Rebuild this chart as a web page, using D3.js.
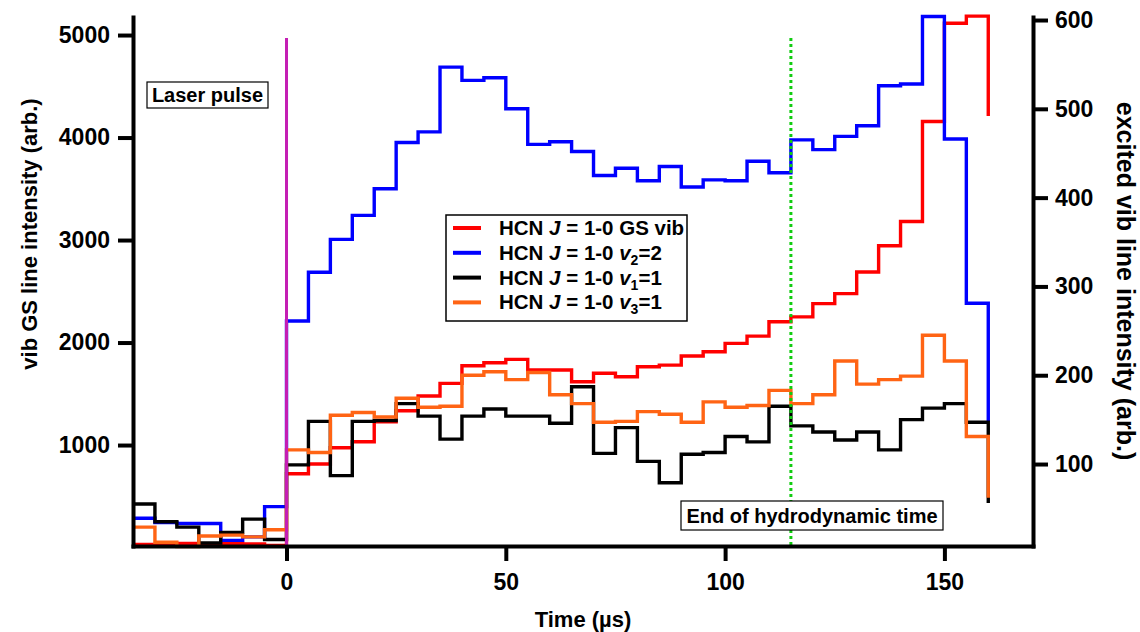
<!DOCTYPE html>
<html><head><meta charset="utf-8">
<script src="https://cdn.jsdelivr.net/npm/d3@7/dist/d3.min.js"></script>
<style>
body{margin:0;background:#fff}
svg text{font-family:"Liberation Sans",Arial,sans-serif;font-weight:bold;fill:#000}
</style>
</head><body>
<svg id="chart" width="1140" height="632"></svg>
<script>
// ---- data ----
const times = [-35,-30,-25,-20,-15,-10,-5,0,5,10,15,20,25,30,35,40,45,50,55,60,65,70,75,80,85,90,95,100,105,110,115,120,125,130,135,140,145,150,155,160];
const gsVib = [31,24,41,24,41,34,21,720,815,974,1032,1227,1335,1478,1602,1774,1803,1836,1732,1732,1618,1700,1666,1764,1780,1868,1910,1992,2063,2203,2250,2380,2477,2688,2944,3181,4157,5115,5185,4210];
const v2eq2 = [39,34,33,33,14,18,52,261,316,353,380,410,462,474,547,532,535,500,460,463,452,425,433,419,435,412,420,419,441,428,465,454,469,481,526,528,604,466,281,148];
const v1eq1 = [55,35,29,11,23,38,15,99,148,87,148,149,168,154,128,154,162,154,154,146,187,112,141,103,79,111,113,131,125,165,143,136,127,136,116,150,163,168,147,56];
const v3eq1 = [29,12,7,19,20,18,26,116,113,155,158,153,174,164,165,200,204,195,203,178,168,147,148,159,156,147,170,164,166,183,168,178,216,190,195,199,245,216,131,62];
const xTicks = [0,50,100,150];
const leftTicks = [1000,2000,3000,4000,5000];
const rightTicks = [100,200,300,400,500,600];
const laserTime = 0;
const hydroEndTime = 115;

// ---- layout ----
const svg = d3.select("#chart");
const L = 133, R = 1033, T = 17, B = 546;
const x = d3.scaleLinear().domain([-35, 170.2]).range([L, R]);
const yL = d3.scaleLinear().domain([15, 5176]).range([B, T]);
const yR = d3.scaleLinear().domain([7.7, 603.4]).range([B, T]);

const series = [
  {key:"gs", vals:gsVib, scale:yL, color:"#ff0000"},
  {key:"v2", vals:v2eq2, scale:yR, color:"#0000ff"},
  {key:"v1", vals:v1eq1, scale:yR, color:"#000000"},
  {key:"v3", vals:v3eq1, scale:yR, color:"#ff6414"}
];

// lines
series.forEach(s => {
  const pts = times.map((t,i)=>({t, v:s.vals[i]}));
  const line = d3.line().x(d=>x(d.t)).y(d=>s.scale(d.v)).curve(d3.curveStepAfter);
  svg.append("path").datum(pts).attr("d", line)
    .attr("fill","none").attr("stroke", s.color).attr("stroke-width",3.4)
    .attr("stroke-linejoin","miter");
});

// laser pulse line
svg.append("line").attr("x1",x(laserTime)).attr("x2",x(laserTime))
  .attr("y1",yL(4970)).attr("y2",B).attr("stroke","#c41eb4").attr("stroke-width",3);
// end of hydrodynamic time line
svg.append("line").attr("x1",x(hydroEndTime)).attr("x2",x(hydroEndTime))
  .attr("y1",yL(4970)).attr("y2",B).attr("stroke","#11cc11").attr("stroke-width",3)
  .attr("stroke-dasharray","3,3");

// axes
function styleAxis(g){
  g.selectAll("path.domain").attr("stroke","#000").attr("stroke-width",4).attr("stroke-linecap","square");
  g.selectAll(".tick line").attr("stroke","#000").attr("stroke-width",4);
  g.selectAll(".tick text").style("font-size","23px").attr("fill","#000");
}
svg.append("g").attr("transform",`translate(0,${B})`)
  .call(d3.axisBottom(x).tickValues(xTicks).tickSize(15).tickSizeOuter(0).tickPadding(13).tickFormat(d3.format("d")))
  .call(styleAxis);
svg.append("g").attr("transform",`translate(${L},0)`)
  .call(d3.axisLeft(yL).tickValues(leftTicks).tickSize(15).tickSizeOuter(0).tickPadding(8).tickFormat(d3.format("d")))
  .call(styleAxis);
svg.append("g").attr("transform",`translate(${R},0)`)
  .call(d3.axisRight(yR).tickValues(rightTicks).tickSize(15).tickSizeOuter(0).tickPadding(7).tickFormat(d3.format("d")))
  .call(styleAxis);

// axis titles
svg.append("text").attr("transform","translate(37,234) rotate(-90)").attr("text-anchor","middle")
  .style("font-size","22px").text("vib GS line intensity (arb.)");
svg.append("text").attr("transform","translate(1117,281) rotate(90)").attr("text-anchor","middle")
  .style("font-size","25px").text("excited vib line intensity (arb.)");
svg.append("text").attr("x",(L+R)/2).attr("y",627).attr("text-anchor","middle")
  .style("font-size","22px").text("Time (µs)");

// annotation boxes
function noteBox(x0,y0,w,h,label,fs){
  svg.append("rect").attr("x",x0).attr("y",y0).attr("width",w).attr("height",h)
    .attr("fill","#fff").attr("stroke","#000").attr("stroke-width",1.2);
  svg.append("text").attr("x",x0+w/2).attr("y",y0+h/2).attr("dy","0.36em").attr("text-anchor","middle")
    .style("font-size",fs+"px").text(label);
}
noteBox(147,82,121,26,"Laser pulse",20);
noteBox(681,501,262,29,"End of hydrodynamic time",20);

// legend
const lg = svg.append("g");
lg.append("rect").attr("x",446).attr("y",215).attr("width",241).attr("height",106)
  .attr("fill","#fff").attr("stroke","#000").attr("stroke-width",1.5);
const subs = [null,"2","1","3"];
const eqs = [null,"=2","=1","=1"];
series.forEach((s,i)=>{
  const yy = 228 + i*24.8;
  lg.append("line").attr("x1",453).attr("x2",481).attr("y1",yy).attr("y2",yy)
    .attr("stroke",s.color).attr("stroke-width",4);
  const t = lg.append("text").attr("x",499).attr("y",yy+7).style("font-size","20.5px");
  t.append("tspan").text("HCN ");
  t.append("tspan").style("font-style","italic").text("J");
  if(i===0){
    t.append("tspan").text(" = 1-0 GS vib");
  } else {
    t.append("tspan").text(" = 1-0 ");
    t.append("tspan").style("font-style","italic").text("v");
    t.append("tspan").attr("dy",5).style("font-size","14px").text(subs[i]);
    t.append("tspan").attr("dy",-5).text(eqs[i]);
  }
});
</script>
</body></html>
